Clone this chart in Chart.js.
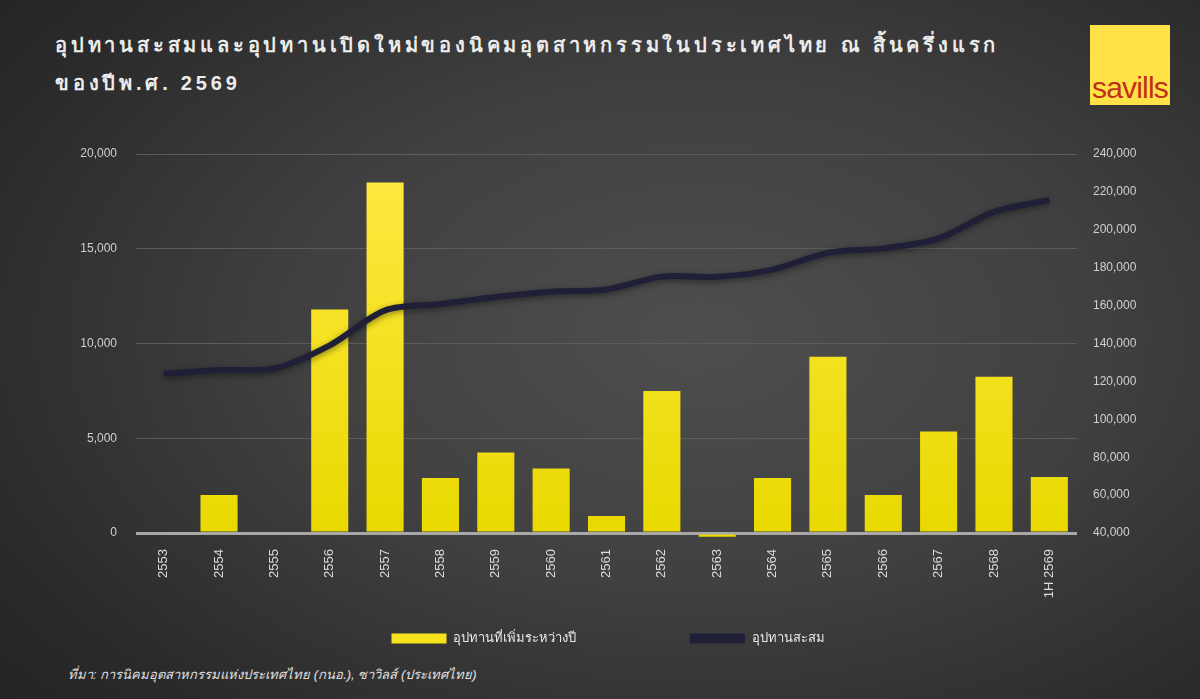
<!DOCTYPE html>
<html><head><meta charset="utf-8">
<script src="https://cdn.jsdelivr.net/npm/chart.js@4.4.1/dist/chart.umd.min.js"></script>
<style>
html,body{margin:0;padding:0;width:1200px;height:699px;overflow:hidden;}
body{background:radial-gradient(ellipse 75% 80% at 58% 48%, #4e4e4e 0%, #404040 45%, #2a2a2a 85%, #242424 100%);font-family:"Liberation Sans",Arial,sans-serif;position:relative;}
#title{position:absolute;left:55px;top:26px;color:#ececec;font-weight:bold;font-size:20px;letter-spacing:3.8px;line-height:38px;}
#logo{position:absolute;left:1090px;top:25px;width:80px;height:80px;background:#ffe246;overflow:hidden;}
#logo span{position:absolute;left:0;width:80px;bottom:0px;text-align:center;color:#c0301a;font-family:"Liberation Sans Narrow","Liberation Sans",Arial,sans-serif;font-size:30px;letter-spacing:-0.8px;}
#wrap{position:absolute;left:0;top:0;width:1200px;height:660px;}
#src{position:absolute;left:68px;top:664px;color:#e0e0e0;font-style:italic;font-size:13px;}
</style></head><body>
<div id="title">อุปทานสะสมและอุปทานเปิดใหม่ของนิคมอุตสาหกรรมในประเทศไทย ณ สิ้นครึ่งแรก<br>ของปีพ.ศ. 2569</div>
<div id="logo"><span>savills</span></div>
<div id="wrap"><canvas id="c" width="1200" height="660"></canvas></div>
<div id="src">ที่มา: การนิคมอุตสาหกรรมแห่งประเทศไทย (กนอ.), ซาวิลส์ (ประเทศไทย)</div>
<script>
const categories = ["2553","2554","2555","2556","2557","2558","2559","2560","2561","2562","2563","2564","2565","2566","2567","2568","1H 2569"];
const newSupply = [0,2000,0,11800,18500,2900,4250,3400,900,7500,-200,2900,9300,2000,5350,8250,2950];
const cumulativeSupply = [124000,126000,126800,139000,157500,160800,164500,167300,168500,175300,175200,179000,187800,190200,195500,209500,215800];
const leftTicks = [0,5000,10000,15000,20000];
const rightTicks = [40000,60000,80000,100000,120000,140000,160000,180000,200000,220000,240000];
const seriesNames = ["อุปทานที่เพิ่มระหว่างปี","อุปทานสะสม"];

const fmt = v => v.toLocaleString('en-US');
function barGrad(ctx){
  const ch = ctx.chart, a = ch.chartArea;
  if(!a) return '#f2df18';
  const g = ch.ctx.createLinearGradient(0,a.top,0,a.bottom);
  g.addColorStop(0,'#ffea45'); g.addColorStop(1,'#e9d900');
  return g;
}
const shadowPlugin = {
  id:'shadow',
  beforeDatasetDraw(chart,args){ if(args.index===0){const c=chart.ctx;c.save();c.shadowColor='rgba(0,0,0,0.45)';c.shadowBlur=6;c.shadowOffsetY=2;} },
  afterDatasetDraw(chart,args){ if(args.index===0){chart.ctx.restore();} }
};
Chart.defaults.font.family = '"Liberation Sans", Arial, sans-serif';
new Chart(document.getElementById('c'),{
  data:{labels:categories,datasets:[
    {type:'line',label:seriesNames[1],data:cumulativeSupply,yAxisID:'y2',borderColor:'#1f2037',backgroundColor:'#1f2037',borderWidth:6,pointRadius:0,tension:0.3,order:0},
    {type:'bar',label:seriesNames[0],data:newSupply,yAxisID:'y',backgroundColor:barGrad,categoryPercentage:1,barPercentage:0.67,order:1,clip:false}
  ]},
  plugins:[shadowPlugin],
  options:{
    responsive:false,animation:false,devicePixelRatio:1,
    layout:{padding:{top:154,left:16,right:0,bottom:5}},
    plugins:{
      tooltip:{enabled:false},
      legend:{position:'bottom',labels:{
        color:'#e8e8e8',font:{size:13},boxWidth:55,boxHeight:10,padding:10,
        generateLabels(chart){
          return [
            {text:seriesNames[0]+'\u2003\u2003\u2003\u2003\u2003\u2003\u2003\u2003',fillStyle:'#f5e21c',strokeStyle:'#f5e21c',lineWidth:0,datasetIndex:1,fontColor:'#e8e8e8'},
            {text:seriesNames[1],fillStyle:'#1f2037',strokeStyle:'#1f2037',lineWidth:0,datasetIndex:0,fontColor:'#e8e8e8'}
          ];
        }}}
    },
    scales:{
      x:{grid:{display:false,drawTicks:false},border:{display:false},
        ticks:{color:'#dcdcdc',font:{size:13},maxRotation:90,minRotation:90,padding:16,autoSkip:false},
        afterFit(s){s.height=89;}},
      y:{position:'left',min:0,max:20000,afterBuildTicks(s){s.ticks=leftTicks.map(v=>({value:v}));},
        grid:{color:c=>c.tick.value===0?'#a8a8a8':'#5c5c5c',lineWidth:c=>c.tick.value===0?3:1,drawTicks:false},
        border:{display:false},
        ticks:{color:'#d0d0d0',font:{size:12},padding:19,callback:v=>fmt(v)},
        afterFit(s){s.width=120;}},
      y2:{position:'right',min:40000,max:240000,afterBuildTicks(s){s.ticks=rightTicks.map(v=>({value:v}));},
        grid:{display:false,drawTicks:false},border:{display:false},
        ticks:{color:'#d0d0d0',font:{size:12},padding:16,callback:v=>fmt(v)},
        afterFit(s){s.width=123;}}
    }
  }
});
</script>
</body></html>
